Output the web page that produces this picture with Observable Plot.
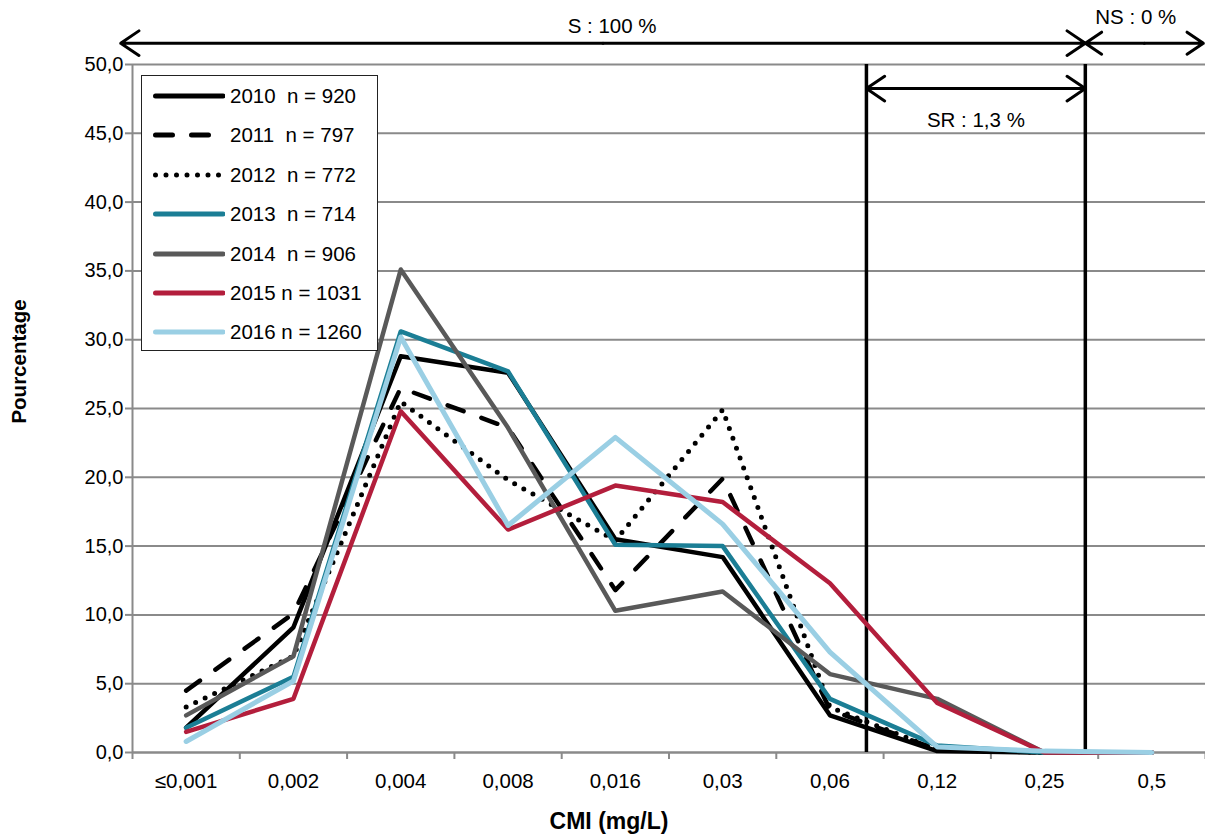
<!DOCTYPE html>
<html><head><meta charset="utf-8">
<script src="https://cdn.jsdelivr.net/npm/d3@7"></script>
<script src="https://cdn.jsdelivr.net/npm/@observablehq/plot@0.6"></script>
<style>
body{margin:0;background:#fff;font-family:"Liberation Sans",Arial,sans-serif;}
#wrap{position:relative;width:1205px;height:836px;}
#legend{position:absolute;left:141px;top:75px;width:235px;height:274px;border:1.5px solid #222;background:#fff;}
.row{position:absolute;left:0;height:26px;display:flex;align-items:center;font-size:20.5px;white-space:pre;color:#000;}
.row svg{margin-left:11px;margin-right:5px;}
</style></head><body><div id="wrap"></div>
<script>
// ---- data ----
const categories = ["≤0,001","0,002","0,004","0,008","0,016","0,03","0,06","0,12","0,25","0,5"];
const years = ["2010","2011","2012","2013","2014","2015","2016"];
const counts = [920, 797, 772, 714, 906, 1031, 1260];
const v2010 = [1.8, 9.1, 28.8, 27.6, 15.5, 14.2, 2.7, 0.1, 0.0, 0.0];
const v2011 = [4.5, 10.1, 26.5, 23.6, 11.8, 19.9, 3.1, 0.2, 0.0, 0.0];
const v2012 = [3.3, 7.0, 25.5, 19.8, 15.4, 24.9, 3.3, 0.2, 0.0, 0.0];
const v2013 = [1.8, 5.5, 30.6, 27.7, 15.1, 15.0, 3.9, 0.5, 0.0, 0.0];
const v2014 = [2.7, 7.0, 35.1, 23.6, 10.3, 11.7, 5.7, 3.9, 0.0, 0.0];
const v2015 = [1.5, 3.9, 24.8, 16.2, 19.4, 18.2, 12.3, 3.6, 0.0, 0.0];
const v2016 = [0.8, 5.2, 30.2, 16.5, 22.9, 16.6, 7.3, 0.4, 0.1, 0.0];
const seriesValues = [v2010, v2011, v2012, v2013, v2014, v2015, v2016];
const yTicks = [0, 5, 10, 15, 20, 25, 30, 35, 40, 45, 50];
// breakpoints (in category-slot units) and interpretation zones
const breakpoints = [6.84, 8.88];
const zoneLabels = ["S : 100 %", "NS : 0 %", "SR : 1,3 %"];
const zoneFrom = [-0.11, 8.88, 6.84];
const zoneTo = [8.88, 9.98, 8.88];
const zoneLevel = [51.55, 51.55, 48.25];
const zoneLabelAt = [4.47, 9.35, 7.86];
const zoneLabelLevel = [52.8, 53.4, 45.9];

// ---- styles ----
const colors = ["#000000","#000000","#000000","#1B7E95","#595959","#B31E3C","#9ACFE4"];
const dashes = [null, "17 19", "0 10.5", null, null, null, null];
const widths = [4.5, 4.5, 5, 4.5, 4.5, 4.5, 5];
const gray = "#8a8a8a";

const rows = [];
years.forEach((yr, s) => seriesValues[s].forEach((v, i) => rows.push({year: yr, i: i + 0.5, value: v})));

const zones = zoneLabels.map((label, k) => ({label, from: zoneFrom[k], to: zoneTo[k], level: zoneLevel[k], at: zoneLabelAt[k], labelLevel: zoneLabelLevel[k]}));
const halves = zones.flatMap(z => {
  const m = (z.from + z.to) / 2;
  return [{x1: m, x2: z.from, y: z.level}, {x1: m, x2: z.to, y: z.level}];
});

const fmt = d => d3.format(".1f")(d).replace(".", ",");

const chart = Plot.plot({
  width: 1205, height: 836,
  marginLeft: 132, marginRight: 0, marginTop: 64, marginBottom: 84,
  style: {fontFamily: "'Liberation Sans', Arial, sans-serif", fontSize: "20px", color: "black", background: "white", overflow: "visible"},
  x: {type: "linear", domain: [0, 10]},
  y: {domain: [0, 50]},
  marks: [
    Plot.gridY(yTicks, {stroke: gray, strokeOpacity: 1, strokeWidth: 2}),
    Plot.axisY({ticks: yTicks, tickFormat: fmt, tickSize: 7, tickPadding: 2, stroke: gray, strokeWidth: 2, fontSize: 20, label: null}),
    Plot.ruleX([0], {stroke: gray, strokeWidth: 2}),
    Plot.ruleY([0], {stroke: gray, strokeWidth: 2}),
    Plot.axisX({ticks: d3.range(11), tickFormat: () => "", tickSize: 7, stroke: gray, strokeWidth: 2, label: null}),
    Plot.axisX({ticks: categories.map((c, i) => i + 0.5), tickFormat: d => categories[Math.floor(d)], tickSize: 0, tickPadding: 21, fontSize: 20.5, label: null}),
    Plot.ruleX(breakpoints, {y1: 0, y2: 50, stroke: "black", strokeWidth: 3.5}),
    ...years.map((yr, s) => Plot.line(rows.filter(r => r.year === yr), {
      x: "i", y: "value", stroke: colors[s], strokeWidth: widths[s],
      strokeDasharray: dashes[s] || undefined, strokeLinecap: "round", strokeLinejoin: "round"
    })),
    Plot.arrow(halves, {x1: "x1", x2: "x2", y1: "y", y2: "y", stroke: "black", strokeWidth: 3, headAngle: 68, headLength: 11}),
    Plot.text(zones, {x: "at", y: "labelLevel", text: "label", fontSize: 20.5, textAnchor: "middle", lineAnchor: "middle", fill: "black"}),
    Plot.text(["Pourcentage"], {frameAnchor: "left", dx: -113, dy: -47, rotate: -90, textAnchor: "middle", lineAnchor: "middle", fontWeight: "bold", fontSize: 20.5, fill: "black"}),
    Plot.text(["CMI (mg/L)"], {frameAnchor: "bottom", dx: -60, dy: 69, textAnchor: "middle", lineAnchor: "middle", fontWeight: "bold", fontSize: 23, fill: "black"})
  ]
});
const wrap = document.getElementById("wrap");
wrap.appendChild(chart);

// legend
const legend = document.createElement("div");
legend.id = "legend";
years.forEach((yr, s) => {
  const row = document.createElement("div");
  row.className = "row";
  row.style.top = (7 + s * 39.4) + "px";
  const sep = counts[s] >= 1000 ? " " : "  ";
  const dash = dashes[s] ? `stroke-dasharray="${dashes[s]}"` : "";
  row.innerHTML = `<svg width="72" height="12"><line x1="2.5" y1="6" x2="70" y2="6" stroke="${colors[s]}" stroke-width="5" stroke-linecap="round" ${dash}/></svg><span>${yr}${sep}n = ${counts[s]}</span>`;
  legend.appendChild(row);
});
wrap.appendChild(legend);
</script>
</body></html>
